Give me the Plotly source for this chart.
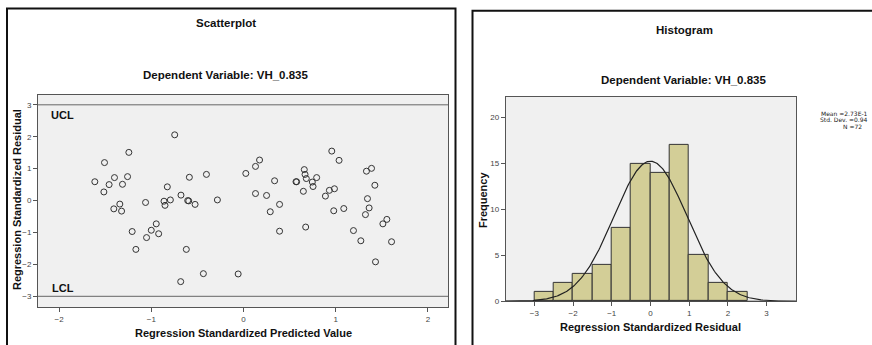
import numpy as np
import plotly.graph_objects as go

W, H = 872, 345

# ---------------- Data ----------------
pred_values = [-1.612, -1.507, -1.514, -1.457, -1.399, -1.406, -1.341, -1.322, -1.312, -1.257,
               -1.243, -1.207, -1.167, -1.062, -1.051, -1.000, -0.946, -0.920, -0.862, -0.851,
               -0.826, -0.793, -0.746, -0.678, -0.681, -0.620, -0.605, -0.594, -0.587, -0.525,
               -0.435, -0.402, -0.283, -0.058, 0.025, 0.130, 0.130, 0.174, 0.250, 0.290,
               0.337, 0.391, 0.391, 0.569, 0.576, 0.649, 0.659, 0.667, 0.681, 0.674,
               0.746, 0.754, 0.793, 0.888, 0.931, 0.986, 0.957, 0.978, 1.036, 1.087,
               1.192, 1.272, 1.322, 1.333, 1.344, 1.362, 1.388, 1.424, 1.431, 1.511,
               1.554, 1.605]
resid_values = [0.59, 1.19, 0.27, 0.50, 0.72, -0.26, -0.11, -0.33, 0.51, 0.75,
                1.51, -0.97, -1.53, -0.06, -1.16, -0.93, -0.73, -1.04, -0.02, -0.15,
                0.43, 0.02, 2.06, 0.17, -2.54, -1.53, 0.00, -0.01, 0.73, -0.12,
                -2.29, 0.82, 0.02, -2.30, 0.85, 1.07, 0.22, 1.27, 0.16, -0.35,
                0.62, -0.12, -0.96, 0.59, 0.59, 0.29, 0.97, 0.82, 0.69, -0.83,
                0.58, 0.44, 0.72, 0.14, 0.32, 0.37, 1.55, -0.32, 1.26, -0.25,
                -0.94, -1.26, -0.44, 0.92, 0.06, -0.23, 1.01, 0.48, -1.92, -0.73,
                -0.59, -1.29]
control_limits = [3, -3]
control_labels = ["UCL", "LCL"]
scatter_xticks = [-2, -1, 0, 1, 2]
scatter_yticks = [-3, -2, -1, 0, 1, 2, 3]

bin_starts = [-3.0, -2.5, -2.0, -1.5, -1.0, -0.5, 0.0, 0.5, 1.0, 1.5, 2.0]
bin_width = 0.5
bin_counts = [1, 2, 3, 4, 8, 15, 14, 17, 5, 2, 1]
hist_xticks = [-3, -2, -1, 0, 1, 2, 3]
hist_yticks = [0, 5, 10, 15, 20]
stat_mean = 0.0
stat_sd = 0.942
stat_n = 72
stat_lines = ["Mean =2.73E-1", "Std. Dev. =0.94", "N =72"]

# ---------------- Helpers ----------------
def px(x):
    return x / W

def py(y):
    return 1 - y / H

FONT = "Liberation Sans, Arial, sans-serif"
TXT = "#111111"
TICK = "#444444"

fig = go.Figure()

# Scatter
fig.add_trace(go.Scatter(
    x=pred_values, y=resid_values, mode="markers",
    marker=dict(symbol="circle-open", size=6, color="#333333", line=dict(width=1, color="#333333")),
    xaxis="x", yaxis="y", showlegend=False, hoverinfo="skip"))

# Histogram bars
centers = [s + bin_width / 2 for s in bin_starts]
fig.add_trace(go.Bar(
    x=centers, y=bin_counts, width=bin_width,
    marker=dict(color="#d3ce97", line=dict(color="#333333", width=1)),
    xaxis="x2", yaxis="y2", showlegend=False, hoverinfo="skip"))

# Normal curve from stated statistics
xs = np.linspace(-3.74, 3.76, 300)
ys = stat_n * bin_width / (stat_sd * np.sqrt(2 * np.pi)) * np.exp(-0.5 * ((xs - stat_mean) / stat_sd) ** 2)
fig.add_trace(go.Scatter(x=xs, y=ys, mode="lines", line=dict(color="#222222", width=1.2),
                         xaxis="x2", yaxis="y2", showlegend=False, hoverinfo="skip"))

axis_common = dict(showgrid=False, zeroline=False, showline=True, mirror=True,
                   linecolor="#555555", linewidth=1, ticks="outside", ticklen=4,
                   tickcolor="#555555", tickfont=dict(family=FONT, size=8, color=TICK),
                   fixedrange=True)

fig.update_layout(
    width=W, height=H,
    margin=dict(l=0, r=0, t=0, b=0),
    paper_bgcolor="white", plot_bgcolor="#f0f0f0",
    bargap=0,
    xaxis=dict(domain=[px(38), px(448)], range=[-2.228, 2.217], tickvals=scatter_xticks,
               anchor="y", **axis_common),
    yaxis=dict(domain=[py(312), py(96)], range=[-3.35, 3.32], tickvals=scatter_yticks,
               anchor="x", **axis_common),
    xaxis2=dict(domain=[px(505.7), px(796)], range=[-3.74, 3.76], tickvals=hist_xticks,
                anchor="y2", **axis_common),
    yaxis2=dict(domain=[py(305.7), py(98.3)], range=[0, 22.25], tickvals=hist_yticks,
                anchor="x2", **axis_common),
)

shapes = []
# Panel borders
shapes.append(dict(type="rect", xref="paper", yref="paper", x0=px(7), x1=px(455.5),
                   y0=-0.1, y1=py(8.5), line=dict(color="#111111", width=2), layer="below"))
shapes.append(dict(type="rect", xref="paper", yref="paper", x0=px(472.5), x1=1.1,
                   y0=-0.1, y1=py(11), line=dict(color="#111111", width=2), layer="below"))
# Control limit lines
for v in control_limits:
    shapes.append(dict(type="line", xref="x domain", yref="y", x0=0, x1=1, y0=v, y1=v,
                       line=dict(color="#666666", width=1)))
# hist baseline
shapes.append(dict(type="line", xref="x2 domain", yref="y2", x0=0, x1=1, y0=0, y1=0,
                   line=dict(color="#222222", width=1)))
fig.update_layout(shapes=shapes)

ann = []
def text(x, y, s, size=11, bold=True, angle=0, color=TXT, xanchor="center", family=FONT):
    ann.append(dict(x=px(x), y=py(y), xref="paper", yref="paper", text=f"<b>{s}</b>" if bold else s,
                    showarrow=False, textangle=angle, xanchor=xanchor, yanchor="middle",
                    font=dict(family=family, size=size, color=color)))

# Scatter titles
text(226, 23, "Scatterplot", size=11.5)
text(226, 76, "Dependent Variable: VH_0.835", size=11.5)
text(243, 338, "Regression Standardized Predicted Value", size=11)
text(17, 203, "Regression Standardized Residual", size=11, angle=-90)
# Control labels
ann.append(dict(x=-2.11, y=2.67, xref="x", yref="y", text=f"<b>{control_labels[0]}</b>", showarrow=False,
                xanchor="left", font=dict(family=FONT, size=11, color=TXT)))
ann.append(dict(x=-2.10, y=-2.73, xref="x", yref="y", text=f"<b>{control_labels[1]}</b>", showarrow=False,
                xanchor="left", font=dict(family=FONT, size=11, color=TXT)))

# Histogram titles
text(684, 30, "Histogram", size=11.5)
text(684, 81, "Dependent Variable: VH_0.835", size=11.5)
text(650, 332, "Regression Standardized Residual", size=11)
text(483, 203, "Frequency", size=11, angle=-90)

# Stats box (visible portion, as in the reference)
SF = "DejaVu Sans, sans-serif"
text(870, 115, stat_lines[0], size=6, bold=False, color="#222222", xanchor="right", family=SF)
text(870, 121.5, stat_lines[1], size=6, bold=False, color="#222222", xanchor="right", family=SF)
text(852, 128, stat_lines[2], size=6, bold=False, color="#222222", family=SF)

fig.update_layout(annotations=ann)

fig.write_html("out.html", config={"displayModeBar": False},
               post_script="document.body.style.margin='0';document.body.style.overflow='hidden';")
